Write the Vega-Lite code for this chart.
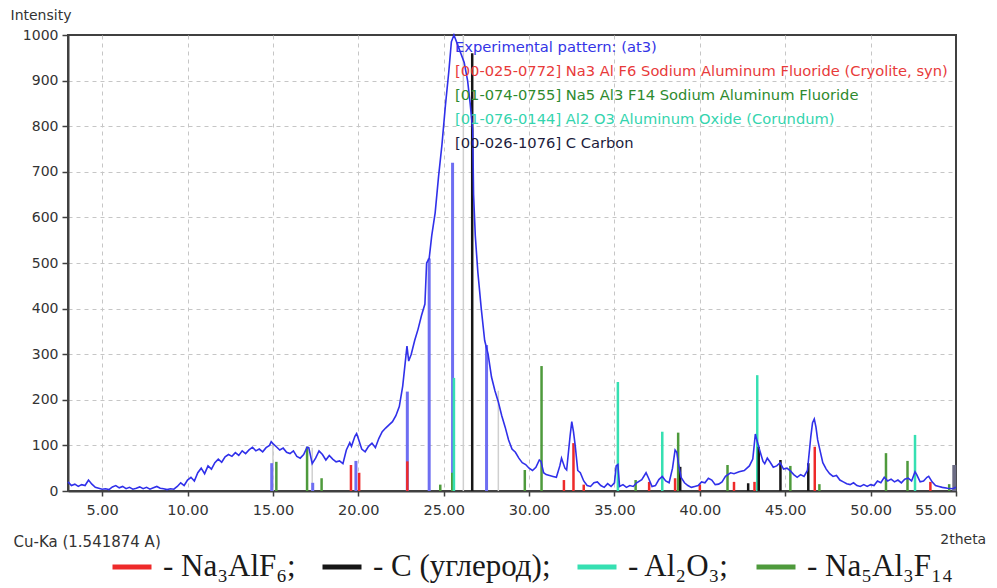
{
  "$schema": "https://vega.github.io/schema/vega-lite/v6.json",
  "width": 888,
  "height": 456,
  "autosize": {"type": "none"},
  "padding": {"left": 68, "top": 35, "right": 41, "bottom": 97},
  "background": "white",
  "title": {"text": "2theta", "orient": "bottom", "anchor": "end", "dx": 27, "dy": -53, "font": "DejaVu Sans", "fontSize": 14, "fontWeight": "normal", "color": "#333333"},
  "datasets": {
    "exp": [
      {"x":3.0,"y":20},{"x":3.2,"y":12},{"x":3.4,"y":15},{"x":3.6,"y":10},{"x":3.8,"y":14},{"x":4.0,"y":12},{"x":4.2,"y":24},{"x":4.4,"y":15},{"x":4.6,"y":8},{"x":4.8,"y":6},
      {"x":5.0,"y":4},{"x":5.2,"y":5},{"x":5.4,"y":3},{"x":5.6,"y":9},{"x":5.8,"y":12},{"x":6.0,"y":7},{"x":6.2,"y":10},{"x":6.4,"y":5},{"x":6.6,"y":8},{"x":6.8,"y":4},
      {"x":7.0,"y":6},{"x":7.2,"y":9},{"x":7.4,"y":5},{"x":7.6,"y":8},{"x":7.8,"y":4},{"x":8.0,"y":7},{"x":8.2,"y":10},{"x":8.4,"y":6},{"x":8.6,"y":5},{"x":8.8,"y":3},
      {"x":9.0,"y":5},{"x":9.2,"y":4},{"x":9.4,"y":10},{"x":9.6,"y":18},{"x":9.8,"y":12},{"x":10.0,"y":24},{"x":10.2,"y":30},{"x":10.4,"y":22},{"x":10.6,"y":40},{"x":10.8,"y":50},
      {"x":11.0,"y":38},{"x":11.2,"y":55},{"x":11.4,"y":48},{"x":11.6,"y":62},{"x":11.8,"y":70},{"x":12.0,"y":63},{"x":12.2,"y":75},{"x":12.4,"y":80},{"x":12.6,"y":76},{"x":12.8,"y":84},
      {"x":13.0,"y":78},{"x":13.2,"y":88},{"x":13.4,"y":82},{"x":13.6,"y":90},{"x":13.8,"y":96},{"x":14.0,"y":88},{"x":14.2,"y":92},{"x":14.4,"y":86},{"x":14.6,"y":95},{"x":14.8,"y":100},
      {"x":14.9,"y":108},{"x":15.0,"y":104},{"x":15.2,"y":97},{"x":15.4,"y":90},{"x":15.6,"y":94},{"x":15.8,"y":85},{"x":16.0,"y":82},{"x":16.2,"y":88},{"x":16.4,"y":76},{"x":16.6,"y":72},
      {"x":16.8,"y":80},{"x":17.0,"y":96},{"x":17.1,"y":95},{"x":17.3,"y":60},{"x":17.5,"y":72},{"x":17.7,"y":88},{"x":17.9,"y":80},{"x":18.1,"y":68},{"x":18.3,"y":78},{"x":18.5,"y":70},
      {"x":18.7,"y":64},{"x":18.9,"y":66},{"x":19.1,"y":60},{"x":19.3,"y":90},{"x":19.5,"y":106},{"x":19.6,"y":98},{"x":19.8,"y":120},{"x":19.9,"y":126},{"x":20.0,"y":115},{"x":20.2,"y":92},
      {"x":20.4,"y":86},{"x":20.6,"y":98},{"x":20.8,"y":105},{"x":21.0,"y":95},{"x":21.2,"y":115},{"x":21.4,"y":130},{"x":21.6,"y":138},{"x":21.8,"y":145},{"x":22.0,"y":152},{"x":22.2,"y":165},
      {"x":22.4,"y":185},{"x":22.6,"y":230},{"x":22.8,"y":300},{"x":22.85,"y":318},{"x":22.95,"y":285},{"x":23.1,"y":300},{"x":23.3,"y":330},{"x":23.5,"y":355},{"x":23.7,"y":385},{"x":23.9,"y":410},
      {"x":24.0,"y":500},{"x":24.15,"y":510},{"x":24.3,"y":560},{"x":24.5,"y":610},{"x":24.7,"y":690},{"x":24.9,"y":760},{"x":25.1,"y":845},{"x":25.3,"y":920},{"x":25.45,"y":985},{"x":25.6,"y":1000},
      {"x":25.7,"y":990},{"x":25.85,"y":975},{"x":26.0,"y":960},{"x":26.2,"y":940},{"x":26.4,"y":900},{"x":26.55,"y":850},{"x":26.7,"y":790},{"x":26.75,"y":650},{"x":26.85,"y":560},{"x":27.0,"y":480},
      {"x":27.2,"y":400},{"x":27.4,"y":330},{"x":27.6,"y":300},{"x":27.8,"y":250},{"x":28.0,"y":220},{"x":28.2,"y":195},{"x":28.4,"y":165},{"x":28.6,"y":140},{"x":28.8,"y":112},{"x":29.0,"y":92},
      {"x":29.2,"y":85},{"x":29.4,"y":72},{"x":29.6,"y":62},{"x":29.8,"y":58},{"x":30.0,"y":50},{"x":30.2,"y":45},{"x":30.4,"y":52},{"x":30.6,"y":68},{"x":30.7,"y":65},{"x":30.85,"y":40},
      {"x":31.0,"y":36},{"x":31.2,"y":34},{"x":31.4,"y":32},{"x":31.6,"y":30},{"x":31.8,"y":55},{"x":31.9,"y":72},{"x":32.1,"y":50},{"x":32.2,"y":46},{"x":32.4,"y":120},{"x":32.5,"y":152},
      {"x":32.6,"y":130},{"x":32.7,"y":100},{"x":32.85,"y":45},{"x":33.0,"y":40},{"x":33.2,"y":22},{"x":33.4,"y":12},{"x":33.6,"y":10},{"x":33.8,"y":18},{"x":34.0,"y":20},{"x":34.2,"y":12},
      {"x":34.4,"y":8},{"x":34.6,"y":16},{"x":34.8,"y":10},{"x":35.0,"y":18},{"x":35.1,"y":55},{"x":35.2,"y":58},{"x":35.3,"y":10},{"x":35.5,"y":14},{"x":35.7,"y":8},{"x":35.9,"y":12},
      {"x":36.1,"y":10},{"x":36.3,"y":18},{"x":36.6,"y":25},{"x":36.85,"y":40},{"x":37.0,"y":28},{"x":37.2,"y":10},{"x":37.4,"y":12},{"x":37.6,"y":25},{"x":37.8,"y":32},{"x":38.0,"y":22},
      {"x":38.2,"y":18},{"x":38.4,"y":50},{"x":38.55,"y":90},{"x":38.65,"y":85},{"x":38.75,"y":60},{"x":38.9,"y":30},{"x":39.1,"y":18},{"x":39.3,"y":12},{"x":39.5,"y":8},{"x":39.7,"y":10},
      {"x":39.9,"y":12},{"x":40.1,"y":20},{"x":40.3,"y":18},{"x":40.5,"y":28},{"x":40.7,"y":24},{"x":40.9,"y":14},{"x":41.1,"y":15},{"x":41.3,"y":20},{"x":41.5,"y":32},{"x":41.8,"y":40},
      {"x":42.0,"y":38},{"x":42.3,"y":42},{"x":42.6,"y":45},{"x":42.9,"y":55},{"x":43.1,"y":70},{"x":43.25,"y":125},{"x":43.35,"y":110},{"x":43.5,"y":90},{"x":43.7,"y":65},{"x":43.8,"y":60},
      {"x":43.95,"y":72},{"x":44.1,"y":64},{"x":44.3,"y":52},{"x":44.5,"y":55},{"x":44.7,"y":62},{"x":44.9,"y":48},{"x":45.1,"y":50},{"x":45.3,"y":44},{"x":45.5,"y":36},{"x":45.7,"y":30},
      {"x":45.9,"y":36},{"x":46.1,"y":32},{"x":46.3,"y":45},{"x":46.5,"y":120},{"x":46.6,"y":150},{"x":46.7,"y":158},{"x":46.8,"y":140},{"x":46.9,"y":112},{"x":47.0,"y":95},{"x":47.2,"y":62},
      {"x":47.4,"y":48},{"x":47.6,"y":38},{"x":47.8,"y":32},{"x":48.0,"y":34},{"x":48.2,"y":24},{"x":48.4,"y":20},{"x":48.6,"y":16},{"x":48.8,"y":14},{"x":49.0,"y":18},{"x":49.2,"y":12},
      {"x":49.4,"y":10},{"x":49.6,"y":14},{"x":49.8,"y":10},{"x":50.0,"y":14},{"x":50.2,"y":12},{"x":50.4,"y":22},{"x":50.6,"y":18},{"x":50.8,"y":30},{"x":51.0,"y":22},{"x":51.2,"y":26},
      {"x":51.4,"y":20},{"x":51.6,"y":24},{"x":51.8,"y":18},{"x":52.0,"y":26},{"x":52.2,"y":28},{"x":52.4,"y":22},{"x":52.6,"y":42},{"x":52.7,"y":36},{"x":52.9,"y":20},{"x":53.1,"y":22},
      {"x":53.3,"y":30},{"x":53.4,"y":32},{"x":53.6,"y":20},{"x":53.8,"y":12},{"x":54.0,"y":10},{"x":54.2,"y":8},{"x":54.5,"y":6},{"x":54.8,"y":5},{"x":55.0,"y":8}
    ],
    "blueSticks": [
      {"x":14.93,"h":61},{"x":17.33,"h":18},{"x":19.86,"h":66},{"x":22.87,"h":218},{"x":24.15,"h":510},{"x":25.52,"h":720},{"x":27.51,"h":320}
    ],
    "graySticks": [
      {"x":15.0,"h":105},{"x":17.3,"h":95},{"x":26.15,"h":1000},{"x":28.2,"h":220}
    ],
    "darkSticks": [
      {"x":54.9,"h":57}
    ],
    "phases": [
      {"phase":"Na₃AlF₆","x":19.57,"h":57},{"phase":"Na₃AlF₆","x":20.05,"h":40},{"phase":"Na₃AlF₆","x":22.87,"h":65},{"phase":"Na₃AlF₆","x":32.04,"h":24},
      {"phase":"Na₃AlF₆","x":32.6,"h":105},{"phase":"Na₃AlF₆","x":33.2,"h":14},{"phase":"Na₃AlF₆","x":37.03,"h":20},{"phase":"Na₃AlF₆","x":38.55,"h":28},
      {"phase":"Na₃AlF₆","x":40.0,"h":14},{"phase":"Na₃AlF₆","x":42.0,"h":20},{"phase":"Na₃AlF₆","x":43.2,"h":20},{"phase":"Na₃AlF₆","x":46.73,"h":97},{"phase":"Na₃AlF₆","x":53.5,"h":20},
      {"phase":"Na₅Al₃F₁₄","x":15.2,"h":64},{"phase":"Na₅Al₃F₁₄","x":17.0,"h":97},{"phase":"Na₅Al₃F₁₄","x":17.85,"h":28},{"phase":"Na₅Al₃F₁₄","x":24.8,"h":14},
      {"phase":"Na₅Al₃F₁₄","x":25.5,"h":40},{"phase":"Na₅Al₃F₁₄","x":29.75,"h":46},{"phase":"Na₅Al₃F₁₄","x":30.73,"h":274},{"phase":"Na₅Al₃F₁₄","x":36.24,"h":24},
      {"phase":"Na₅Al₃F₁₄","x":38.73,"h":128},{"phase":"Na₅Al₃F₁₄","x":41.62,"h":57},{"phase":"Na₅Al₃F₁₄","x":45.3,"h":55},{"phase":"Na₅Al₃F₁₄","x":47.0,"h":15},
      {"phase":"Na₅Al₃F₁₄","x":50.9,"h":83},{"phase":"Na₅Al₃F₁₄","x":52.16,"h":66},{"phase":"Na₅Al₃F₁₄","x":54.6,"h":15},
      {"phase":"Al₂O₃","x":25.6,"h":248},{"phase":"Al₂O₃","x":35.2,"h":239},{"phase":"Al₂O₃","x":37.8,"h":130},{"phase":"Al₂O₃","x":43.36,"h":254},{"phase":"Al₂O₃","x":52.6,"h":123},
      {"phase":"C (углерод)","x":26.67,"h":960},{"phase":"C (углерод)","x":38.85,"h":53},{"phase":"C (углерод)","x":42.83,"h":17},{"phase":"C (углерод)","x":43.45,"h":97},
      {"phase":"C (углерод)","x":44.72,"h":68},{"phase":"C (углерод)","x":46.35,"h":61}
    ],
    "labels": [
      {"x":25.66,"y":971,"series":"exp","text":"Experimental pattern: (at3)"},
      {"x":25.66,"y":919,"series":"cry","text":"[00-025-0772] Na3 Al F6 Sodium Aluminum Fluoride (Cryolite, syn)"},
      {"x":25.66,"y":866,"series":"chi","text":"[01-074-0755] Na5 Al3 F14 Sodium Aluminum Fluoride"},
      {"x":25.66,"y":814,"series":"cor","text":"[01-076-0144] Al2 O3 Aluminum Oxide (Corundum)"},
      {"x":25.66,"y":761,"series":"car","text":"[00-026-1076] C Carbon"}
    ]
  },
  "encoding": {
    "x": {"type": "quantitative", "scale": {"domain": [3, 55], "nice": false, "zero": false},
      "axis": {"values": [5,10,15,20,25,30,35,40,45,50,55], "format": ".2f", "title": "Cu-Ka (1.541874 A)",
        "titleX": -55, "titleY": 50, "titleAlign": "left", "titleBaseline": "middle", "titleAnchor": "start", "titleFontSize": 15,
        "labelPadding": 7, "labelFontSize": 14.5,
        "gridOpacity": {"condition": {"test": "datum.value >= 55", "value": 0}, "value": 1}}},
    "y": {"type": "quantitative", "scale": {"domain": [0, 1000], "nice": false},
      "axis": {"values": [0,100,200,300,400,500,600,700,800,900,1000], "format": "d", "title": "Intensity", "titleAngle": 0,
        "titleX": -58, "titleY": -20, "titleAlign": "left", "titleBaseline": "middle", "tickSize": 6, "labelPadding": 4,
        "gridOpacity": {"condition": {"test": "datum.value >= 1000", "value": 0}, "value": 1}}}
  },
  "layer": [
    {"data": {"name": "graySticks"}, "mark": {"type": "rule", "color": "#cfcfcf", "strokeWidth": 1.5},
      "encoding": {"x": {"field": "x"}, "y": {"field": "h"}, "y2": {"datum": 0}}},
    {"data": {"name": "darkSticks"}, "mark": {"type": "rule", "color": "#6c6c84", "strokeWidth": 4},
      "encoding": {"x": {"field": "x"}, "y": {"field": "h"}, "y2": {"datum": 0}}},
    {"data": {"name": "blueSticks"}, "mark": {"type": "rule", "color": "#6e6ef2", "strokeWidth": 3},
      "encoding": {"x": {"field": "x"}, "y": {"field": "h"}, "y2": {"datum": 0}}},
    {"data": {"name": "phases"}, "mark": {"type": "rule", "strokeWidth": 2.5},
      "encoding": {"x": {"field": "x"}, "y": {"field": "h"}, "y2": {"datum": 0},
        "color": {"field": "phase", "type": "nominal",
          "scale": {"domain": ["Na₃AlF₆", "C (углерод)", "Al₂O₃", "Na₅Al₃F₁₄"], "range": ["#ee2a2a", "#161616", "#36e0b2", "#4e9a3c"]},
          "legend": {"orient": "none", "legendX": 42, "legendY": 510, "direction": "horizontal", "title": null,
            "symbolType": "stroke", "symbolSize": 1521, "symbolStrokeWidth": 5, "labelFont": "Liberation Serif",
            "labelFontSize": 31, "labelColor": "#1a1a1a", "labelOffset": 9, "columnPadding": 16, "labelLimit": 400,
            "labelExpr": "'- ' + datum.label + (datum.label === 'Na₅Al₃F₁₄' ? '' : ';')"}}}},
    {"data": {"name": "exp"}, "mark": {"type": "line", "color": "#3030ea", "strokeWidth": 1.6},
      "encoding": {"x": {"field": "x"}, "y": {"field": "y"}}},
    {"data": {"name": "labels"}, "mark": {"type": "text", "align": "left", "baseline": "middle", "font": "DejaVu Sans", "fontSize": 14.7},
      "encoding": {"x": {"field": "x"}, "y": {"field": "y"}, "text": {"field": "text"},
        "color": {"field": "series", "type": "nominal", "legend": null,
          "scale": {"domain": ["exp", "cry", "chi", "cor", "car"], "range": ["#3434e6", "#e83a3a", "#2e8a2e", "#34d4ae", "#1c1c3c"]}}}}
  ],
  "resolve": {"scale": {"color": "independent"}},
  "config": {
    "font": "DejaVu Sans",
    "view": {"stroke": "#404040", "strokeWidth": 2},
    "axis": {"grid": true, "gridDash": [4, 4], "gridColor": "#c6c6c6", "gridWidth": 1,
      "domainColor": "#404040", "domainWidth": 2, "tickColor": "#404040", "tickSize": 5, "tickWidth": 1.5,
      "labelFont": "DejaVu Sans", "labelFontSize": 14, "labelColor": "#333333",
      "titleFont": "DejaVu Sans", "titleFontSize": 14, "titleFontWeight": "normal", "titleColor": "#333333"}
  }
}
